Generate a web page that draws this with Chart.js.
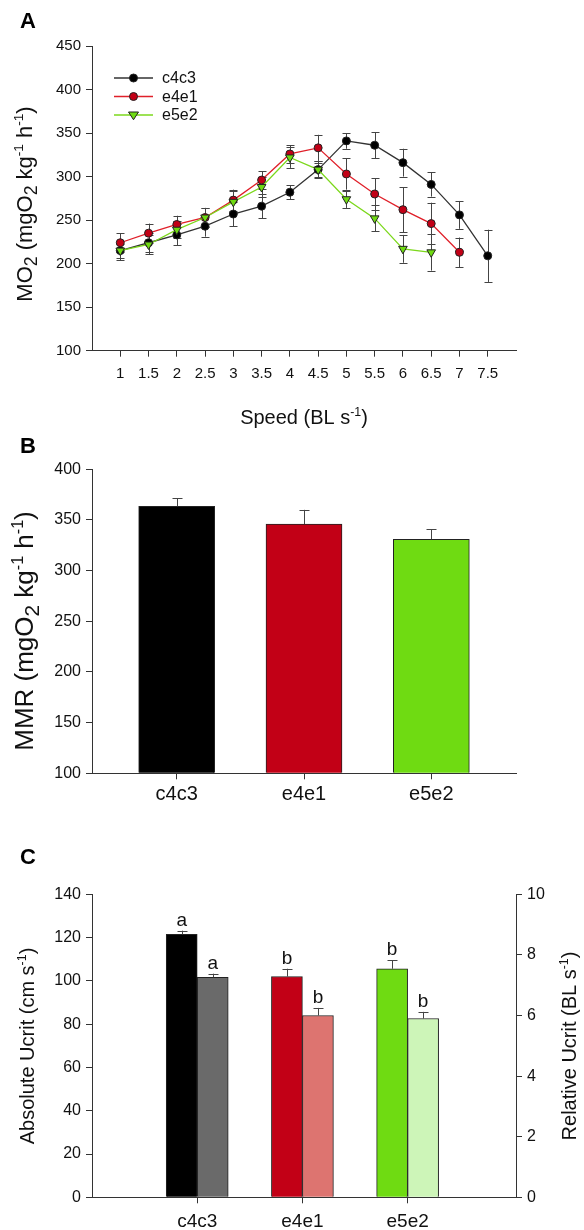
<!DOCTYPE html>
<html>
<head>
<meta charset="utf-8">
<script src="https://cdn.jsdelivr.net/npm/chart.js@4.4.1/dist/chart.umd.min.js"></script>
<style>
  html, body { margin: 0; padding: 0; background: #fff; }
  #wrap { position: relative; width: 584px; height: 1230px; overflow: hidden; }
  canvas { position: absolute; left: 0; }
  .tag { position: absolute; left: 20px; font: bold 22px "Liberation Sans", Arial, sans-serif; color: #000; }
</style>
</head>
<body>
<div id="wrap">
  <canvas id="chart-a" width="584" height="430" style="top:0"></canvas>
  <canvas id="chart-b" width="584" height="380" style="top:430px"></canvas>
  <canvas id="chart-c" width="584" height="420" style="top:810px"></canvas>
  <div class="tag" style="top:8px">A</div>
  <div class="tag" style="top:433px">B</div>
  <div class="tag" style="top:844px">C</div>
</div>
<script>
// ─── Data ─────────────────────────────────────────────────────────────────────

const speeds = [1, 1.5, 2, 2.5, 3, 3.5, 4, 4.5, 5, 5.5, 6, 6.5, 7, 7.5];
const moC4c3 = [215, 224, 233, 243, 257, 266, 282, 308, 341, 336, 316, 291, 256, 209];
const moC4c3Se = [8, 11, 12, 12, 14, 14, 8, 10, 9, 15, 16, 14, 16, 30];
const moE4e1 = [224, 235, 245, 253, 273, 296, 326, 333, 303, 280, 262, 246, 213];
const moE4e1Se = [11, 11, 10, 11, 12, 10, 10, 15, 18, 18, 26, 24, 17];
const moE5e2 = [215, 222, 239, 253, 271, 288, 322, 308, 274, 252, 217, 213];
const moE5e2Se = [11, 11, 10, 11, 12, 11, 12, 8, 10, 15, 16, 21];

const groups = ['c4c3', 'e4e1', 'e5e2'];
const mmr = [363.5, 346, 331];
const mmrSe = [8, 14, 10];

const ucritAbs = [121.5, 102, 105.6];
const ucritAbsSe = [1.7, 3.6, 4];
const ucritRel = [7.26, 6.0, 5.9];
const ucritRelSe = [0.12, 0.25, 0.22];
const ucritAbsLetters = ['a', 'b', 'b'];
const ucritRelLetters = ['a', 'b', 'b'];

const FONT = '"Liberation Sans", Arial, sans-serif';
const INK = '#111';
const AXIS = '#333';
const ERR = '#444';

const colMain = ['#000000', '#c20016', '#6fdb12'];
const colLight = ['#6a6a6a', '#dd7470', '#cdf5b8'];

// ─── Helpers ──────────────────────────────────────────────────────────────────

// parts: [{t, sub?, sup?}] — drawn centred on (x, y), optionally rotated
function drawRich(ctx, parts, x, y, size, rotate) {
  ctx.save();
  ctx.translate(x, y);
  if (rotate) ctx.rotate(-Math.PI / 2);
  ctx.fillStyle = INK;
  ctx.textBaseline = 'alphabetic';
  ctx.textAlign = 'left';
  const sizes = parts.map((p) => (p.sup ? size * 0.62 : p.sub ? size * 0.8 : size));
  let total = 0;
  parts.forEach((p, i) => {
    ctx.font = `${sizes[i]}px ${FONT}`;
    total += ctx.measureText(p.t).width;
  });
  let cx = -total / 2;
  parts.forEach((p, i) => {
    ctx.font = `${sizes[i]}px ${FONT}`;
    const dy = p.sup ? -size * 0.4 : p.sub ? size * 0.22 : 0;
    ctx.fillText(p.t, cx, size * 0.36 + dy);
    cx += ctx.measureText(p.t).width;
  });
  ctx.restore();
}

function drawErrorBars(chart, mode, cap) {
  const ctx = chart.ctx;
  ctx.save();
  ctx.strokeStyle = ERR;
  ctx.lineWidth = 1;
  chart.data.datasets.forEach((ds, di) => {
    if (!ds.errors) return;
    const meta = chart.getDatasetMeta(di);
    const yScale = chart.scales[meta.yAxisID];
    meta.data.forEach((el, i) => {
      const v = ds.values[i];
      const e = ds.errors[i];
      const x = Math.round(el.x) + 0.5;
      const top = yScale.getPixelForValue(v + e);
      const bot = mode === 'up' ? yScale.getPixelForValue(v) : yScale.getPixelForValue(v - e);
      ctx.beginPath();
      ctx.moveTo(x, bot);
      ctx.lineTo(x, top);
      ctx.moveTo(x - cap, Math.round(top) + 0.5);
      ctx.lineTo(x + cap, Math.round(top) + 0.5);
      if (mode !== 'up') {
        ctx.moveTo(x - cap, Math.round(bot) + 0.5);
        ctx.lineTo(x + cap, Math.round(bot) + 0.5);
      }
      ctx.stroke();
      if (ds.letters) {
        ctx.fillStyle = INK;
        ctx.font = `19px ${FONT}`;
        ctx.textAlign = 'center';
        ctx.textBaseline = 'alphabetic';
        ctx.fillText(ds.letters[i], el.x, top - 5);
      }
    });
  });
  ctx.restore();
}

function axisBase(size) {
  return {
    offset: false,
    grid: { drawOnChartArea: false, offset: false, tickLength: 6, color: AXIS, tickColor: AXIS },
    border: { color: AXIS, width: 1 },
    ticks: { color: INK, font: { family: FONT, size }, padding: 5, autoSkip: false, maxRotation: 0 },
  };
}

// ─── Panel A: MO2 vs speed ────────────────────────────────────────────────────

const legendA = [
  { label: 'c4c3', line: '#333', fill: '#000', style: 'circle' },
  { label: 'e4e1', line: '#e0202a', fill: '#c20016', style: 'circle' },
  { label: 'e5e2', line: '#7cd81c', fill: '#6fdb12', style: 'triangle' },
];

function marker(ctx, style, x, y, r, fill) {
  ctx.beginPath();
  if (style === 'circle') {
    ctx.arc(x, y, r, 0, Math.PI * 2);
  } else {
    ctx.moveTo(x - r, y - r * 0.6);
    ctx.lineTo(x + r, y - r * 0.6);
    ctx.lineTo(x, y + r * 0.95);
    ctx.closePath();
  }
  ctx.fillStyle = fill;
  ctx.fill();
  ctx.strokeStyle = '#222';
  ctx.lineWidth = 1;
  ctx.stroke();
}

function lineSet(values, se, i, order) {
  const l = legendA[i];
  return {
    label: l.label,
    data: values.map((v, k) => ({ x: speeds[k], y: v })),
    values,
    errors: se,
    borderColor: l.line,
    borderWidth: 1.3,
    backgroundColor: l.fill,
    pointBackgroundColor: l.fill,
    pointBorderColor: '#222',
    pointBorderWidth: 1,
    pointStyle: l.style,
    pointRotation: l.style === 'triangle' ? 180 : 0,
    pointRadius: l.style === 'triangle' ? 5 : 4,
    tension: 0,
    order,
  };
}

const axA = axisBase(15);
const ayA = axisBase(15);

new Chart(document.getElementById('chart-a'), {
  type: 'line',
  data: {
    datasets: [
      lineSet(moC4c3, moC4c3Se, 0, 2),
      lineSet(moE4e1, moE4e1Se, 1, 1),
      lineSet(moE5e2, moE5e2Se, 2, 0),
    ],
  },
  options: {
    responsive: false,
    animation: false,
    layout: { padding: { top: 46, right: 68, left: 0, bottom: 0 } },
    plugins: { legend: { display: false }, tooltip: { enabled: false } },
    scales: {
      x: {
        ...axA,
        type: 'linear',
        min: 0.5,
        max: 8,
        ticks: { ...axA.ticks, padding: 8, callback: (v) => String(v) },
        afterBuildTicks: (s) => { s.ticks = speeds.map((v) => ({ value: v })); },
        afterFit: (s) => { s.height = 430 - 350.7; },
      },
      y: {
        ...ayA,
        min: 100,
        max: 450,
        ticks: { ...ayA.ticks, stepSize: 50 },
        afterFit: (s) => { s.width = 92; },
      },
    },
  },
  plugins: [{
    id: 'extrasA',
    beforeDatasetsDraw: (chart) => drawErrorBars(chart, 'both', 4),
    afterDraw: (chart) => {
      const ctx = chart.ctx;
      legendA.forEach((l, i) => {
        const y = 78 + i * 18.5;
        ctx.save();
        ctx.strokeStyle = l.line;
        ctx.lineWidth = 1.3;
        ctx.beginPath();
        ctx.moveTo(114, y);
        ctx.lineTo(153, y);
        ctx.stroke();
        marker(ctx, l.style, 133.5, y, l.style === 'triangle' ? 5 : 4, l.fill);
        ctx.fillStyle = INK;
        ctx.font = `16px ${FONT}`;
        ctx.textBaseline = 'middle';
        ctx.fillText(l.label, 162, y + 1);
        ctx.restore();
      });
      drawRich(ctx, [
        { t: 'MO' }, { t: '2', sub: true }, { t: ' (mgO' }, { t: '2', sub: true },
        { t: ' kg' }, { t: '-1', sup: true }, { t: ' h' }, { t: '-1', sup: true }, { t: ')' },
      ], 24, 204, 22, true);
      drawRich(ctx, [{ t: 'Speed (BL s' }, { t: '-1', sup: true }, { t: ')' }], 304, 417, 20, false);
    },
  }],
});

// ─── Panel B: MMR bars ────────────────────────────────────────────────────────

const axB = axisBase(20);
const ayB = axisBase(16);

new Chart(document.getElementById('chart-b'), {
  type: 'bar',
  data: {
    datasets: [{
      data: mmr.map((v, i) => ({ x: i + 1, y: v })),
      values: mmr,
      errors: mmrSe,
      base: 100,
      backgroundColor: colMain,
      borderColor: '#222',
      borderWidth: 1,
      barThickness: 76,
    }],
  },
  options: {
    responsive: false,
    animation: false,
    layout: { padding: { top: 39.3, right: 68, left: 0, bottom: 0 } },
    plugins: { legend: { display: false }, tooltip: { enabled: false } },
    scales: {
      x: {
        ...axB,
        type: 'linear',
        min: 0.335,
        max: 3.665,
        ticks: { ...axB.ticks, padding: 3, callback: (v) => groups[v - 1] || '' },
        afterBuildTicks: (s) => { s.ticks = groups.map((g, i) => ({ value: i + 1 })); },
        afterFit: (s) => { s.height = 380 - 343.3; },
      },
      y: {
        ...ayB,
        min: 100,
        max: 400,
        ticks: { ...ayB.ticks, stepSize: 50 },
        afterFit: (s) => { s.width = 92; },
      },
    },
  },
  plugins: [{
    id: 'extrasB',
    afterDatasetsDraw: (chart) => drawErrorBars(chart, 'up', 5),
    afterDraw: (chart) => {
      drawRich(chart.ctx, [
        { t: 'MMR (mgO' }, { t: '2', sub: true }, { t: ' kg' }, { t: '-1', sup: true },
        { t: ' h' }, { t: '-1', sup: true }, { t: ')' },
      ], 24, 631 - 430, 26, true);
    },
  }],
});

// ─── Panel C: Ucrit (absolute + relative) ─────────────────────────────────────

const axC = axisBase(19);
const ayC = axisBase(16);

new Chart(document.getElementById('chart-c'), {
  type: 'bar',
  data: {
    datasets: [
      {
        data: ucritAbs.map((v, i) => ({ x: i + 1, y: v })),
        values: ucritAbs,
        errors: ucritAbsSe,
        letters: ucritAbsLetters,
        yAxisID: 'y',
        backgroundColor: colMain,
        borderColor: '#222',
        borderWidth: 1,
        barThickness: 31,
      },
      {
        data: ucritRel.map((v, i) => ({ x: i + 1, y: v })),
        values: ucritRel,
        errors: ucritRelSe,
        letters: ucritRelLetters,
        yAxisID: 'y2',
        backgroundColor: colLight,
        borderColor: '#222',
        borderWidth: 1,
        barThickness: 31,
      },
    ],
  },
  options: {
    responsive: false,
    animation: false,
    layout: { padding: { top: 84.3, right: 0, left: 0, bottom: 0 } },
    plugins: { legend: { display: false }, tooltip: { enabled: false } },
    scales: {
      x: {
        ...axC,
        type: 'linear',
        min: 0,
        max: 4.03,
        ticks: { ...axC.ticks, padding: 7, callback: (v) => groups[v - 1] || '' },
        afterBuildTicks: (s) => { s.ticks = groups.map((g, i) => ({ value: i + 1 })); },
        afterFit: (s) => { s.height = 420 - 387.3; },
      },
      y: {
        ...ayC,
        min: 0,
        max: 140,
        ticks: { ...ayC.ticks, stepSize: 20 },
        afterFit: (s) => { s.width = 92; },
      },
      y2: {
        ...ayC,
        position: 'right',
        min: 0,
        max: 10,
        ticks: { ...ayC.ticks, stepSize: 2 },
        afterFit: (s) => { s.width = 68; },
      },
    },
  },
  plugins: [{
    id: 'extrasC',
    afterDatasetsDraw: (chart) => drawErrorBars(chart, 'up', 5),
    afterDraw: (chart) => {
      drawRich(chart.ctx, [{ t: 'Absolute Ucrit (cm s' }, { t: '-1', sup: true }, { t: ')' }],
        27, 1046 - 810, 20, true);
      drawRich(chart.ctx, [{ t: 'Relative Ucrit (BL s' }, { t: '-1', sup: true }, { t: ')' }],
        569, 1046 - 810, 20, true);
    },
  }],
});
</script>
</body>
</html>
